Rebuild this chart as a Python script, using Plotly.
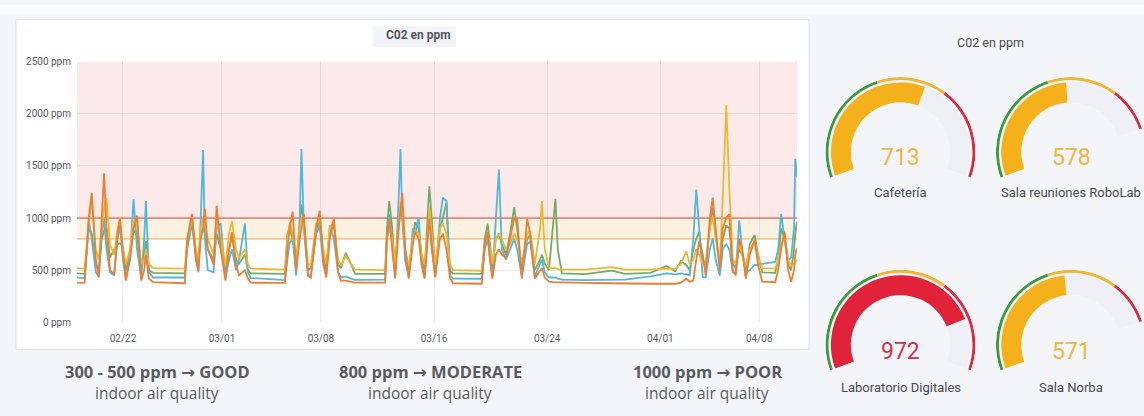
import math
import plotly.graph_objects as go

W, H = 1144, 416
YEAR = 2023

# ---------------- line chart data ----------------
times = [
    "02-18 18:00", "02-19 07:00", "02-19 14:00", "02-19 19:00", "02-20 02:00", "02-20 07:00", "02-20 12:00", "02-20 16:00", "02-20 20:00", "02-21 02:00",
    "02-21 09:00", "02-21 15:00", "02-21 19:00", "02-22 00:00", "02-22 05:00", "02-22 12:00", "02-22 18:00", "02-23 00:00", "02-23 07:00", "02-23 12:00",
    "02-23 15:00", "02-23 20:00", "02-24 03:00", "02-26 09:00", "02-26 13:00", "02-26 21:00", "02-27 04:00", "02-27 08:00", "02-27 12:00", "02-27 16:00",
    "02-27 19:00", "02-28 00:00", "02-28 10:00", "02-28 15:00", "02-28 22:00", "03-01 06:00", "03-01 12:00", "03-01 17:00", "03-02 00:00", "03-02 05:00",
    "03-02 15:00", "03-02 20:00", "03-03 01:00", "03-05 11:00", "03-05 15:00", "03-05 19:00", "03-06 00:00", "03-06 06:00", "03-06 12:00", "03-06 15:00",
    "03-06 19:00", "03-07 02:00", "03-07 07:00", "03-07 16:00", "03-07 22:00", "03-08 04:00", "03-08 09:00", "03-08 15:00", "03-08 22:00", "03-09 05:00",
    "03-09 10:00", "03-09 18:00", "03-10 03:00", "03-10 10:00", "03-12 13:00", "03-12 16:00", "03-12 20:00", "03-13 01:00", "03-13 06:00", "03-13 12:00",
    "03-13 15:00", "03-13 18:00", "03-13 23:00", "03-14 05:00", "03-14 12:00", "03-14 16:00", "03-14 22:00", "03-15 03:00", "03-15 08:00", "03-15 14:00",
    "03-15 16:00", "03-15 20:00", "03-16 02:00", "03-16 10:00", "03-16 15:00", "03-16 21:00", "03-17 03:00", "03-17 08:00", "03-19 09:00", "03-19 14:00",
    "03-19 19:00", "03-19 23:00", "03-20 03:00", "03-20 09:00", "03-20 14:00", "03-20 19:00", "03-21 02:00", "03-21 09:00", "03-21 16:00", "03-21 21:00",
    "03-22 05:00", "03-22 14:00", "03-22 19:00", "03-23 03:00", "03-23 12:00", "03-23 15:00", "03-23 20:00", "03-24 03:00", "03-24 10:00", "03-24 14:00",
    "03-24 18:00", "03-25 01:00", "03-26 16:00", "03-28 14:00", "03-29 12:00", "03-31 07:00", "04-01 11:00", "04-02 01:00", "04-02 11:00", "04-02 20:00",
    "04-03 02:00", "04-03 08:00", "04-03 13:00", "04-03 18:00", "04-04 00:00", "04-04 05:00", "04-04 12:00", "04-04 17:00", "04-04 22:00", "04-05 05:00",
    "04-05 10:00", "04-05 16:00", "04-05 21:00", "04-06 03:00", "04-06 08:00", "04-06 14:00", "04-06 19:00", "04-07 01:00", "04-07 08:00", "04-07 16:00",
    "04-07 22:00", "04-08 05:00", "04-09 03:00", "04-09 08:00", "04-09 13:00", "04-09 19:00", "04-10 01:00", "04-10 06:00", "04-10 11:00", "04-10 13:00",
    "04-10 16:00",
]

yellow = [
    520, 515, 950, 1180, 700, 600, 900, 1100, 1195, 740,
    650, 900, 1000, 700, 560, 700, 980, 950, 560, 600,
    700, 560, 520, 515, 800, 1000, 700, 600, 900, 1000,
    950, 800, 650, 1000, 800, 550, 850, 970, 700, 620,
    700, 560, 515, 505, 800, 960, 850, 600, 900, 1000,
    950, 550, 560, 950, 990, 700, 560, 900, 980, 600,
    550, 635, 560, 505, 500, 800, 900, 800, 550, 900,
    1150, 1100, 700, 540, 800, 880, 850, 650, 550, 900,
    1100, 850, 550, 900, 950, 850, 560, 500, 495, 750,
    850, 700, 560, 800, 850, 800, 700, 750, 850, 800,
    560, 850, 880, 560, 900, 1163, 700, 520, 520, 520,
    510, 505, 505, 530, 505, 505, 515, 510, 560, 680,
    560, 600, 700, 650, 560, 560, 900, 1023, 800, 560,
    1200, 2080, 1300, 600, 560, 750, 650, 540, 700, 780,
    620, 520, 515, 600, 750, 837, 600, 540, 560, 580,
    600,
]

green = [
    470, 465, 900, 850, 550, 500, 800, 880, 900, 620,
    700, 750, 760, 720, 500, 650, 880, 850, 480, 700,
    780, 500, 475, 470, 700, 950, 650, 560, 850, 900,
    850, 700, 600, 850, 700, 480, 700, 820, 600, 560,
    650, 500, 470, 465, 850, 900, 800, 550, 1000, 1132,
    950, 500, 520, 900, 962, 650, 500, 850, 930, 560,
    520, 666, 560, 465, 465, 900, 1163, 900, 500, 1000,
    1100, 1000, 700, 500, 800, 960, 900, 600, 500, 1100,
    1303, 1000, 500, 900, 1000, 1150, 500, 470, 465, 800,
    946, 750, 520, 800, 850, 750, 650, 850, 1101, 900,
    500, 800, 837, 500, 600, 650, 560, 500, 900, 1185,
    700, 470, 462, 495, 465, 475, 540, 490, 589, 550,
    500, 700, 800, 868, 600, 550, 900, 1101, 850, 520,
    800, 930, 900, 560, 520, 700, 650, 500, 750, 837,
    650, 480, 475, 600, 900, 800, 550, 500, 700, 850,
    963,
]

cyan = [
    430, 425, 980, 800, 480, 440, 850, 990, 700, 480,
    450, 800, 930, 600, 420, 650, 1179, 700, 420, 800,
    1163, 480, 430, 430, 750, 980, 600, 480, 1000, 1651,
    800, 500, 480, 900, 950, 430, 600, 700, 500, 600,
    946, 480, 425, 405, 600, 760, 806, 450, 1000, 1661,
    900, 450, 450, 850, 930, 550, 450, 930, 800, 480,
    430, 440, 420, 408, 410, 800, 1039, 700, 440, 1200,
    1661, 1000, 600, 430, 900, 850, 1008, 550, 430, 900,
    1000, 700, 440, 1000, 1195, 1163, 450, 420, 418, 700,
    800, 600, 440, 1000, 1465, 700, 600, 700, 800, 700,
    440, 750, 775, 440, 550, 600, 480, 430, 430, 430,
    420, 410, 405, 410, 410, 440, 470, 460, 470, 460,
    450, 800, 1272, 900, 433, 430, 700, 806, 600, 450,
    700, 750, 700, 480, 470, 977, 700, 470, 500, 550,
    550, 560, 580, 700, 1039, 800, 600, 620, 900, 1567,
    1396,
]

orange = [
    380, 378, 1000, 1240, 600, 430, 1000, 1428, 900, 500,
    460, 850, 993, 650, 400, 600, 900, 1023, 400, 500,
    650, 420, 385, 375, 800, 1039, 600, 500, 800, 900,
    1090, 700, 550, 1117, 700, 400, 700, 865, 550, 450,
    500, 420, 380, 378, 700, 900, 1061, 500, 800, 900,
    1039, 450, 430, 900, 1070, 600, 430, 800, 993, 480,
    400, 400, 390, 380, 380, 800, 993, 700, 420, 900,
    1100, 1241, 700, 420, 750, 868, 800, 550, 420, 900,
    993, 750, 430, 800, 850, 700, 430, 375, 370, 750,
    868, 600, 420, 650, 700, 650, 620, 800, 993, 993,
    420, 993, 850, 420, 500, 520, 430, 390, 385, 385,
    382, 380, 378, 375, 372, 370, 372, 370, 380, 418,
    390, 400, 600, 775, 650, 450, 1000, 1195, 900, 500,
    900, 1000, 1039, 500, 450, 800, 700, 420, 650, 790,
    550, 390, 385, 500, 700, 868, 500, 390, 500, 650,
    713,
]

y_ticks = [0, 500, 1000, 1500, 2000, 2500]
y_ticktext = [f"{v} ppm" for v in y_ticks]
x_tick_days = ["02-22", "03-01", "03-08", "03-16", "03-24", "04-01", "04-08"]
x_ticktext = ["02/22", "03/01", "03/08", "03/16", "03/24", "04/01", "04/08"]

WARN_LEVEL = 800
CRIT_LEVEL = 1000
Y_MAX = 2500

# ---------------- gauge data ----------------
gauge_names = ["Cafetería", "Sala reuniones RoboLab", "Laboratorio Digitales", "Sala Norba"]
gauge_values = [713, 578, 972, 571]
gauge_min, gauge_max = 0, 1200
gauge_steps = [500, 800]  # green < 500 <= yellow < 800 <= red

bottom_left = ["300 - 500 ppm", "800 ppm", "1000 ppm"]
bottom_right = ["GOOD", "MODERATE", "POOR"]
bottom_sub = ["indoor air quality", "indoor air quality", "indoor air quality"]

# ---------------- styles ----------------
C_GREEN = "#73ab63"
C_YELLOW = "#efb634"
C_CYAN = "#52b7d9"
C_ORANGE = "#ef7c33"
TXT = "#464c54"

assert all(len(s) == len(times) for s in (yellow, green, cyan, orange))
ts = [f"{YEAR}-{t}" for t in times]

fig = go.Figure()
for vals, col in ((green, C_GREEN), (cyan, C_CYAN), (yellow, C_YELLOW), (orange, C_ORANGE)):
    fig.add_trace(go.Scatter(x=ts, y=vals, mode="lines", line=dict(color=col, width=1.8),
                             hoverinfo="skip", showlegend=False, xaxis="x", yaxis="y"))

def px_x(x):
    return x / W

def px_y(y):
    return 1 - y / H

shapes = [
    dict(type="rect", xref="paper", yref="paper", x0=0, x1=1, y0=px_y(9), y1=1,
         fillcolor="#fafbfc", line_width=0, layer="below"),
    dict(type="rect", xref="paper", yref="paper", x0=px_x(16), x1=px_x(809), y0=px_y(354), y1=px_y(15),
         fillcolor="white", line=dict(color="#e1e2e7", width=1), layer="below"),
    dict(type="rect", xref="paper", yref="paper", x0=px_x(373), x1=px_x(456), y0=px_y(43), y1=px_y(22),
         fillcolor="#f3f4f7", line_width=0, layer="below"),
    dict(type="rect", xref="x domain", yref="y", x0=0, x1=1, y0=CRIT_LEVEL, y1=Y_MAX,
         fillcolor="rgba(234,112,112,0.15)", line_width=0, layer="below"),
    dict(type="rect", xref="x domain", yref="y", x0=0, x1=1, y0=WARN_LEVEL, y1=CRIT_LEVEL,
         fillcolor="rgba(235,138,14,0.12)", line_width=0, layer="below"),
    dict(type="line", xref="x domain", yref="y", x0=0, x1=1, y0=CRIT_LEVEL, y1=CRIT_LEVEL,
         line=dict(color="rgba(237,46,24,0.6)", width=1.5), layer="below"),
    dict(type="line", xref="x domain", yref="y", x0=0, x1=1, y0=WARN_LEVEL, y1=WARN_LEVEL,
         line=dict(color="rgba(247,149,32,0.55)", width=1.5), layer="below"),
]

def label(text, x, y, size, color, family="Roboto, sans-serif"):
    return dict(text=text, x=px_x(x), y=px_y(y), xref="paper", yref="paper",
                xanchor="center", yanchor="middle", showarrow=False,
                font=dict(family=family, size=size, color=color))

annotations = [
    label("<b>C02 en ppm</b>", 418, 31, 12, "#52575e"),
    label("C02 en ppm", 990, 39, 12.5, TXT),
]

ARROW = '<span style="font-family:DejaVu Sans">→</span>'
for cx, left, right, sub in zip((157, 430, 707), bottom_left, bottom_right, bottom_sub):
    annotations.append(label(f"<b>{left} {ARROW} {right}</b>", cx, 376, 16.5, "#5a5b5f",
                             "Open Sans, sans-serif"))
    annotations.append(label(sub, cx, 399, 15.5, "#5a5b5f", "Open Sans, sans-serif"))

# ---------------- gauges via barpolar ----------------
GAUGE_SPAN = 220.0         # degrees covered by the dial
GAUGE_START = 200.0        # screen angle of gauge_min
R_OUT = 77.0
THIN_BASE, THIN_W = 74.0, 3.0
THICK_BASE, THICK_W = 51.0, 20.5
TRACK = "#eef0f5"
ARC_COLORS = ["#3c9a3e", "#f2b431", "#e0283c"]
FILL_COLORS = ["#3c9a3e", "#f4b11c", "#e0233a"]
TEXT_COLORS = ["#3c9a3e", "#efb640", "#d5304a"]

centers = [(900.5, 151), (1071, 151), (900.5, 349), (1071, 349)]
value_y = [157, 157, 356, 356]
label_y = [193, 193, 393, 393]

def to_deg(v):
    return (v - gauge_min) / (gauge_max - gauge_min) * GAUGE_SPAN

def sector_bbox(a0, a1):
    angs = [a0, a1] + [k * 90 for k in range(-4, 9) if a0 < k * 90 < a1]
    xs = [math.cos(math.radians(a)) for a in angs] + [0]
    ys = [math.sin(math.radians(a)) for a in angs] + [0]
    return min(xs), min(ys), max(xs), max(ys)

def level(v):
    if v < gauge_steps[0]:
        return 0
    if v < gauge_steps[1]:
        return 1
    return 2

bounds = [gauge_min] + gauge_steps + [gauge_max]
polars = {}
for i, ((cx, cy), name, val) in enumerate(zip(centers, gauge_names, gauge_values)):
    sub = "polar" if i == 0 else f"polar{i + 1}"
    end_angle = GAUGE_START - GAUGE_SPAN
    if cx + R_OUT > W:
        end_angle = math.degrees(math.acos((W - cx) / R_OUT))
    sector = [end_angle, GAUGE_START]
    bx0, by0, bx1, by1 = sector_bbox(*sector)
    dom_x = [max(0, (cx + R_OUT * bx0) / W), min(1, (cx + R_OUT * bx1) / W)]
    dom_y = [px_y(cy - R_OUT * by0), px_y(cy - R_OUT * by1)]
    polars[sub] = dict(
        domain=dict(x=dom_x, y=dom_y), sector=sector, hole=0, bgcolor="rgba(0,0,0,0)",
        barmode="overlay",
        radialaxis=dict(visible=False, range=[0, R_OUT]),
        angularaxis=dict(visible=False, direction="clockwise", rotation=GAUGE_START),
    )
    fig.add_trace(go.Barpolar(subplot=sub, r=[THICK_W], base=[THICK_BASE], theta=[GAUGE_SPAN / 2],
                              width=[GAUGE_SPAN], marker=dict(color=TRACK, line=dict(width=0)),
                              hoverinfo="skip", showlegend=False))
    lv = level(val)
    fig.add_trace(go.Barpolar(subplot=sub, r=[THICK_W], base=[THICK_BASE], theta=[to_deg(val) / 2],
                              width=[to_deg(val)], marker=dict(color=FILL_COLORS[lv], line=dict(width=0)),
                              hoverinfo="skip", showlegend=False))
    th = [(to_deg(bounds[k]) + to_deg(bounds[k + 1])) / 2 for k in range(3)]
    wd = [to_deg(bounds[k + 1]) - to_deg(bounds[k]) for k in range(3)]
    fig.add_trace(go.Barpolar(subplot=sub, r=[THIN_W] * 3, base=[THIN_BASE] * 3, theta=th, width=wd,
                              marker=dict(color=ARC_COLORS, line=dict(width=0)),
                              hoverinfo="skip", showlegend=False))
    annotations.append(label(str(val), cx, value_y[i], 23, TEXT_COLORS[lv]))
    annotations.append(label(name, cx, label_y[i], 13, TXT))

axis_font = dict(family="Roboto, sans-serif", size=10, color="#55585f")
fig.update_layout(
    width=W, height=H, margin=dict(l=0, r=0, t=0, b=0),
    paper_bgcolor="#f4f5f8", plot_bgcolor="white", showlegend=False,
    shapes=shapes, annotations=annotations,
    xaxis=dict(domain=[px_x(77), px_x(797)], anchor="y", type="date", range=[ts[0], ts[-1]],
               tickmode="array", tickvals=[f"{YEAR}-{d}" for d in x_tick_days], ticktext=x_ticktext,
               showgrid=True, gridcolor="rgba(0,0,0,0.07)", gridwidth=1, zeroline=False, showline=False,
               ticks="", tickfont=axis_font, ticklabelstandoff=9, fixedrange=True),
    yaxis=dict(domain=[px_y(326), px_y(58)], anchor="x", range=[0, Y_MAX],
               tickmode="array", tickvals=y_ticks, ticktext=y_ticktext,
               showgrid=True, gridcolor="rgba(0,0,0,0.07)", gridwidth=1, zeroline=False, showline=False,
               ticks="", tickfont=axis_font, ticklabelstandoff=5, fixedrange=True),
    **polars,
)

fig.write_html(
    "out.html",
    config={"displayModeBar": False},
    post_script="document.body.style.margin='0';document.body.style.overflow='hidden';",
)
